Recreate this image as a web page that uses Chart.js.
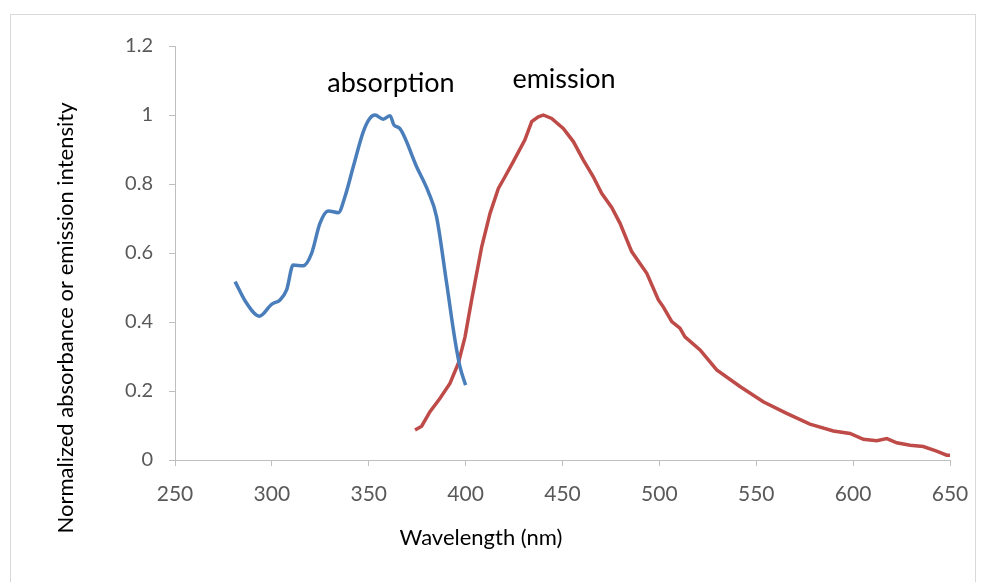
<!DOCTYPE html>
<html>
<head>
<meta charset="utf-8">
<script src="https://cdn.jsdelivr.net/npm/chart.js@4"></script>
<style>
  html, body { margin: 0; padding: 0; background: #fff; }
  #wrap { width: 985px; height: 582px; position: relative; }
</style>
</head>
<body>
<div id="wrap"><canvas id="chart" width="985" height="582"></canvas></div>
<script>
// --- Data ---
const absWavelength = [281, 287, 293.5, 300, 304.2, 307.6, 311, 316.2, 320.5, 324.8, 329.1, 334.3, 337.7, 342, 347.2, 350.5, 353.2, 357.5, 361, 363, 366, 374.7, 380.7, 385, 390.2, 394.5, 397.1, 400];
const absValue = [0.517, 0.454, 0.417, 0.452, 0.464, 0.493, 0.565, 0.563, 0.599, 0.686, 0.722, 0.717, 0.763, 0.850, 0.952, 0.99, 1.0, 0.988, 0.998, 0.971, 0.961, 0.850, 0.778, 0.705, 0.512, 0.348, 0.270, 0.217];

const emWavelength = [373.9, 377.3, 381.6, 386.8, 391.9, 396.2, 399.7, 403.1, 408.3, 412.6, 416.9, 420.3, 424.6, 430.6, 434.1, 437.5, 440.1, 444.4, 450.4, 455.6, 460.7, 465.9, 470.2, 475.4, 479.7, 485.7, 493.5, 499.5, 502, 506.4, 510.6, 513.2, 521, 529.6, 541.6, 553.6, 565.7, 577.7, 589.8, 598.4, 605.3, 612.2, 617.4, 622.5, 629.4, 636.2, 643.1, 648.3, 650];
const emValue = [0.087, 0.098, 0.140, 0.179, 0.222, 0.280, 0.357, 0.464, 0.618, 0.715, 0.787, 0.821, 0.865, 0.928, 0.981, 0.995, 1.0, 0.990, 0.961, 0.923, 0.870, 0.821, 0.773, 0.732, 0.686, 0.604, 0.541, 0.464, 0.444, 0.401, 0.382, 0.357, 0.319, 0.261, 0.213, 0.169, 0.135, 0.104, 0.084, 0.077, 0.060, 0.056, 0.062, 0.050, 0.043, 0.039, 0.026, 0.014, 0.014];

const xTitle = 'Wavelength (nm)';
const yTitle = 'Normalized absorbance or emission intensity';
const seriesLabels = ['absorption', 'emission'];

const toPoints = (xs, ys) => xs.map((x, i) => ({ x, y: ys[i] }));
const FONT = 'Lato, "Open Sans", sans-serif';

// --- Border, axis titles and curve labels ---
const decorations = {
  id: 'decorations',
  beforeDraw(chart) {
    const c = chart.ctx;
    c.save();
    c.fillStyle = '#fff';
    c.fillRect(0, 0, chart.width, chart.height);
    c.strokeStyle = '#d9d9d9';
    c.lineWidth = 1;
    c.strokeRect(10.5, 14.5, 965, 600);
    c.restore();
  },
  afterDraw(chart) {
    const c = chart.ctx;
    c.save();
    c.fillStyle = '#000';
    c.textAlign = 'center';
    c.textBaseline = 'alphabetic';
    c.font = '27px ' + FONT;
    c.fillText(seriesLabels[0], 391, 92);
    c.fillText(seriesLabels[1], 564, 88);
    c.textBaseline = 'middle';
    c.font = '22px ' + FONT;
    c.fillText(xTitle, 481, 538);
    c.translate(66, 318);
    c.rotate(-Math.PI / 2);
    c.font = '22px ' + FONT;
    c.fillText(yTitle, 0, 0);
    c.restore();
  }
};

new Chart(document.getElementById('chart'), {
  type: 'line',
  data: {
    datasets: [
      { label: seriesLabels[0], data: toPoints(absWavelength, absValue), borderColor: '#4a7ebb', borderWidth: 3.5, pointRadius: 0, cubicInterpolationMode: 'monotone', fill: false },
      { label: seriesLabels[1], data: toPoints(emWavelength, emValue), borderColor: '#be4b48', borderWidth: 3.5, pointRadius: 0, tension: 0, fill: false }
    ]
  },
  options: {
    responsive: false,
    animation: false,
    layout: { padding: { left: 10, top: 46, right: 35, bottom: 0 } },
    plugins: { legend: { display: false }, tooltip: { enabled: false } },
    scales: {
      x: {
        type: 'linear', min: 250, max: 650,
        ticks: { stepSize: 50, color: '#595959', font: { family: FONT, size: 21 }, padding: 16, maxRotation: 0 },
        grid: { drawOnChartArea: false, color: '#bfbfbf', tickLength: 6 },
        border: { color: '#bfbfbf' },
        afterFit: s => { s.height = 122; }
      },
      y: {
        min: 0, max: 1.2,
        ticks: { stepSize: 0.2, color: '#595959', font: { family: FONT, size: 20 }, padding: 16,
          callback: v => String(Math.round(v * 10) / 10) },
        grid: { drawOnChartArea: false, color: '#bfbfbf', tickLength: 6 },
        border: { color: '#bfbfbf' },
        afterFit: s => { s.width = 165; }
      }
    }
  },
  plugins: [decorations]
});
</script>
</body>
</html>
